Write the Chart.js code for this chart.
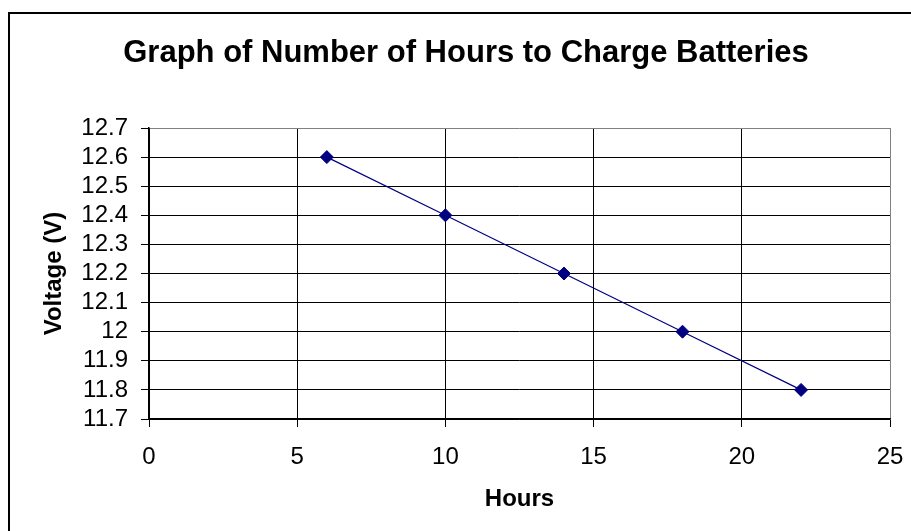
<!DOCTYPE html>
<html>
<head>
<meta charset="utf-8">
<script src="https://cdn.jsdelivr.net/npm/chart.js@4/dist/chart.umd.min.js"></script>
<style>
  body { margin: 0; background: #fff; }
  #wrap { width: 911px; height: 531px; position: relative; }
</style>
</head>
<body>
<div id="wrap"><canvas id="chart"></canvas></div>
<script>
// Hours of charging and the battery voltage
const hours = [6, 10, 14, 18, 22];
const voltage = [12.6, 12.4, 12.2, 12.0, 11.8];

const chartTitle = "Graph of Number of Hours to Charge Batteries";
const xTitle = "Hours";
const yTitle = "Voltage (V)";

const font = "'Liberation Sans', Arial, sans-serif";

// Outer frame and the main title
const framePlugin = {
  id: "frame",
  beforeDraw(chart) {
    const ctx = chart.ctx;
    ctx.save();
    ctx.fillStyle = "#fff";
    ctx.fillRect(0, 0, chart.width, chart.height);
    ctx.strokeStyle = "#000";
    ctx.lineWidth = 2;
    ctx.strokeRect(9, 13, chart.width + 20, chart.height + 20);
    ctx.restore();
  },
  afterDraw(chart) {
    const ctx = chart.ctx;
    ctx.save();
    ctx.font = "bold 31px " + font;
    ctx.fillStyle = "#000";
    ctx.textAlign = "center";
    ctx.textBaseline = "alphabetic";
    ctx.fillText(chartTitle, 466, 62);
    ctx.restore();
  },
};

const pts = hours.map((h, i) => ({ x: h, y: voltage[i] }));

new Chart(document.getElementById("chart"), {
  type: "scatter",
  data: {
    datasets: [
      {
        data: pts,
        showLine: true,
        borderColor: "#000080",
        borderWidth: 1.2,
        pointStyle: "rectRot",
        pointRadius: 6.5,
        pointHoverRadius: 6.5,
        pointBackgroundColor: "#000080",
        pointBorderColor: "#000080",
        pointBorderWidth: 1,
      },
    ],
  },
  options: {
    responsive: true,
    maintainAspectRatio: false,
    animation: false,
    layout: { padding: { top: 128, right: 21, left: 0, bottom: 0 } },
    plugins: {
      legend: { display: false },
      tooltip: { enabled: false },
    },
    scales: {
      x: {
        min: 0,
        max: 25,
        afterFit: (s) => {
          s.height = 112;
          s.paddingLeft = 0;
          s.paddingRight = 0;
        },
        ticks: {
          stepSize: 5,
          color: "#000",
          font: { family: font, size: 24 },
          padding: 16,
          maxRotation: 0,
          autoSkip: false,
        },
        grid: {
          color: (c) => (c.tick && c.tick.value === 25 ? "#808080" : "#000"),
          lineWidth: 1,
          tickLength: 8,
          tickColor: "#000",
        },
        border: { color: "#000", width: 1.5 },
        title: {
          display: true,
          text: xTitle,
          color: "#000",
          font: { family: font, size: 24, weight: "bold" },
          padding: { top: 0, bottom: 17 },
        },
      },
      y: {
        min: 11.7,
        max: 12.7,
        afterFit: (s) => {
          s.width = 149;
          s.paddingTop = 0;
          s.paddingBottom = 0;
        },
        ticks: {
          stepSize: 0.1,
          color: "#000",
          font: { family: font, size: 24 },
          padding: 13,
          autoSkip: false,
          callback: (v) => Number(v.toFixed(1)).toString(),
        },
        grid: {
          color: (c) => (c.tick && Math.abs(c.tick.value - 12.7) < 1e-6 ? "#808080" : "#000"),
          lineWidth: 1,
          tickLength: 8,
          tickColor: "#000",
        },
        border: { color: "#000", width: 1.5 },
        title: {
          display: true,
          text: yTitle,
          color: "#000",
          font: { family: font, size: 24, weight: "bold" },
          padding: { top: 40, bottom: 0 },
        },
      },
    },
  },
  plugins: [framePlugin],
});
</script>
</body>
</html>
